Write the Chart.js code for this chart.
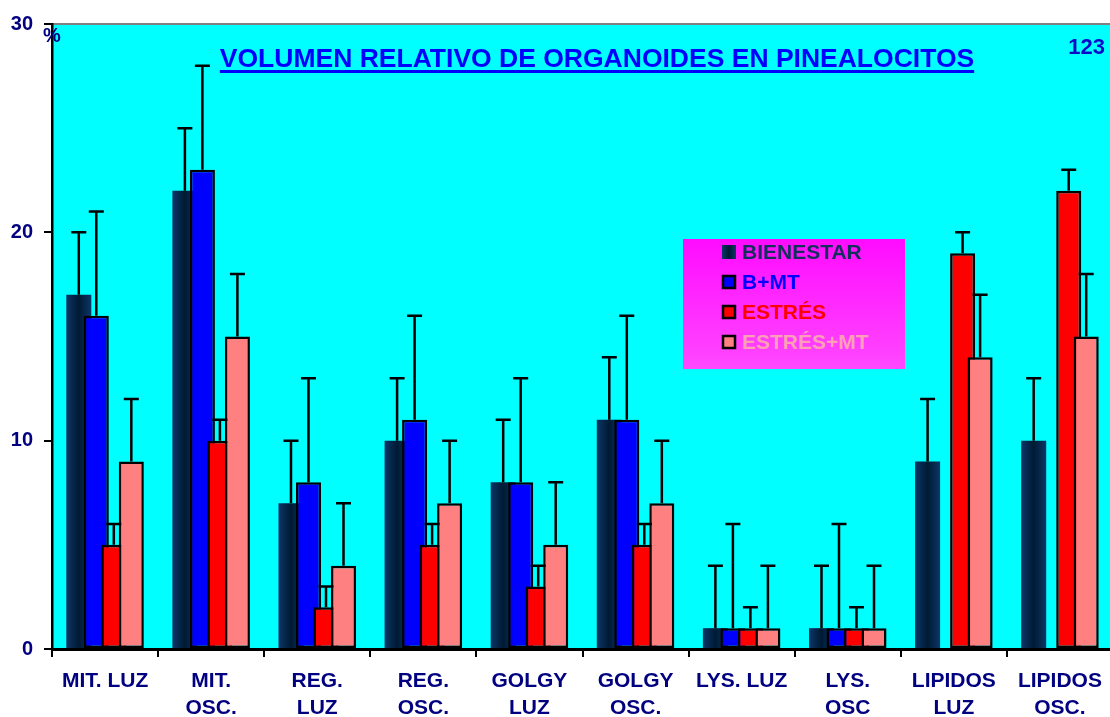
<!DOCTYPE html>
<html>
<head>
<meta charset="utf-8">
<title>Volumen relativo de organoides en pinealocitos</title>
<script src="https://cdn.jsdelivr.net/npm/chart.js@4.4.0/dist/chart.umd.min.js"></script>
<style>
  html, body { margin: 0; padding: 0; background: #fff; overflow: hidden; }
  #chart { display: block; }
</style>
</head>
<body>
<canvas id="chart" width="1116" height="717"></canvas>
<script>
// organelle / lighting groups
const categories = [
    'MIT. LUZ', ['MIT.', 'OSC.'], ['REG.', 'LUZ'], ['REG.', 'OSC.'], ['GOLGY', 'LUZ'],
    ['GOLGY', 'OSC.'], 'LYS. LUZ', ['LYS.', 'OSC'], ['LIPIDOS', 'LUZ'], ['LIPIDOS', 'OSC.']
];

// mean relative volume (%) per group
const bienestar   = [17, 22, 7, 10, 8, 11, 1, 1, 9, 10];
const bMt         = [16, 23, 8, 11, 8, 11, 1, 1, null, null];
const estres      = [5, 10, 2, 5, 3, 5, 1, 1, 19, 22];
const estresMt    = [9, 15, 4, 7, 5, 7, 1, 1, 14, 15];

// upper error (SD) per group
const bienestarSD = [3, 3, 3, 3, 3, 3, 3, 3, 3, 3];
const bMtSD       = [5, 5, 5, 5, 5, 5, 5, 5, null, null];
const estresSD    = [1, 1, 1, 1, 1, 1, 1, 1, 1, 1];
const estresMtSD  = [3, 3, 3, 3, 3, 3, 3, 3, 3, 3];

const yTicks = [0, 10, 20, 30];

const FONT = '"Liberation Sans", Arial, sans-serif';
const NAVY = '#000080';

function darkGradient(ctx, left, right) {
    const g = ctx.createLinearGradient(left, 0, right, 0);
    g.addColorStop(0, '#0c3668');
    g.addColorStop(0.5, '#001a33');
    g.addColorStop(1, '#0c3668');
    return g;
}

// cyan plot area with grey top edge
const plotBackground = {
    id: 'plotBackground',
    beforeDraw(chart) {
        const { ctx, chartArea: a } = chart;
        ctx.save();
        ctx.fillStyle = '#00ffff';
        ctx.fillRect(a.left, a.top, a.right - a.left, a.bottom - a.top);
        ctx.strokeStyle = '#808080';
        ctx.lineWidth = 2;
        ctx.beginPath();
        ctx.moveTo(a.left, a.top);
        ctx.lineTo(a.right, a.top);
        ctx.stroke();
        ctx.restore();
    }
};

function drawErrorBars(chart) {
    const { ctx } = chart;
    const yScale = chart.scales.y;
    ctx.save();
    ctx.strokeStyle = '#000';
    ctx.lineWidth = 2.5;
    chart.data.datasets.forEach((ds, i) => {
        const meta = chart.getDatasetMeta(i);
        ds.data.forEach((v, j) => {
            const sd = ds.errors[j];
            if (v == null || sd == null) return;
            const x = meta.data[j].x;
            const yTop = yScale.getPixelForValue(v);
            const yErr = yScale.getPixelForValue(v + sd);
            ctx.beginPath();
            ctx.moveTo(x, yTop);
            ctx.lineTo(x, yErr);
            ctx.moveTo(x - 7.5, yErr);
            ctx.lineTo(x + 7.5, yErr);
            ctx.stroke();
        });
    });
    ctx.restore();
}

// draw datasets left to right so later bars overlap earlier ones
const forwardBars = {
    id: 'forwardBars',
    beforeDatasetsDraw(chart) {
        const { ctx, chartArea: a } = chart;
        chart.getSortedVisibleDatasetMetas().forEach(meta => {
            if (meta.index === 0) {
                meta.data.forEach(bar => {
                    bar.options = Object.assign({}, bar.options, {
                        backgroundColor: darkGradient(ctx, bar.x - bar.width / 2, bar.x + bar.width / 2)
                    });
                });
            }
            ctx.save();
            ctx.beginPath();
            ctx.rect(a.left, a.top, a.right - a.left, a.bottom - a.top);
            ctx.clip();
            meta.controller.draw();
            ctx.restore();
        });
        drawErrorBars(chart);
        return false;
    }
};

const legendItems = [
    { label: 'BIENESTAR', text: '#12305c', fill: null, border: false },
    { label: 'B+MT', text: '#0000ff', fill: '#0000ff', border: true },
    { label: 'ESTRÉS', text: '#ff0000', fill: '#ff0000', border: true },
    { label: 'ESTRÉS+MT', text: '#ffa0b4', fill: '#ff8080', border: true }
];

const decorations = {
    id: 'decorations',
    afterDraw(chart) {
        const { ctx } = chart;
        ctx.save();

        // title
        ctx.font = 'bold 26.5px ' + FONT;
        ctx.fillStyle = '#0000ff';
        ctx.textAlign = 'left';
        ctx.textBaseline = 'alphabetic';
        const title = 'VOLUMEN RELATIVO DE ORGANOIDES EN PINEALOCITOS';
        const tw = ctx.measureText(title).width;
        const tx = 597 - tw / 2;
        ctx.fillText(title, tx, 67);
        ctx.fillRect(tx, 70, tw, 3);

        // page number
        ctx.font = 'bold 22px ' + FONT;
        ctx.fillStyle = '#0a0ac8';
        ctx.textAlign = 'right';
        ctx.fillText('123', 1105, 54);

        // unit next to top tick
        ctx.font = 'bold 20px ' + FONT;
        ctx.fillStyle = NAVY;
        ctx.textAlign = 'left';
        ctx.fillText('%', 43, 42);

        // legend box
        const bx = 683, by = 239, bw = 222, bh = 130;
        const bg = ctx.createLinearGradient(0, by, 0, by + bh);
        bg.addColorStop(0, '#ff0cff');
        bg.addColorStop(1, '#ff48ff');
        ctx.fillStyle = bg;
        ctx.fillRect(bx, by, bw, bh);

        ctx.font = 'bold 21px ' + FONT;
        ctx.textBaseline = 'middle';
        legendItems.forEach((item, i) => {
            const cy = 252 + i * 30;
            const mx = 722, my = cy - 7;
            if (item.border) {
                ctx.fillStyle = item.fill;
                ctx.fillRect(mx, my, 14, 14);
                ctx.strokeStyle = '#000';
                ctx.lineWidth = 2.5;
                ctx.strokeRect(mx + 1, my + 1, 12, 12);
            } else {
                ctx.fillStyle = darkGradient(ctx, mx, mx + 14);
                ctx.fillRect(mx, my, 14, 14);
            }
            ctx.fillStyle = item.text;
            ctx.fillText(item.label, 742, cy + 1);
        });

        ctx.restore();
    }
};

const barDefaults = {
    borderColor: '#000',
    borderWidth: 2.5,
    borderSkipped: false,
    categoryPercentage: 0.66,
    barPercentage: 1.43
};

new Chart(document.getElementById('chart'), {
    type: 'bar',
    data: {
        labels: categories,
        datasets: [
            Object.assign({}, barDefaults, { label: 'BIENESTAR', data: bienestar, errors: bienestarSD, backgroundColor: '#001a33', borderWidth: 0 }),
            Object.assign({}, barDefaults, { label: 'B+MT', data: bMt, errors: bMtSD, backgroundColor: '#0000ff' }),
            Object.assign({}, barDefaults, { label: 'ESTRÉS', data: estres, errors: estresSD, backgroundColor: '#ff0000' }),
            Object.assign({}, barDefaults, { label: 'ESTRÉS+MT', data: estresMt, errors: estresMtSD, backgroundColor: '#ff8080' })
        ]
    },
    options: {
        responsive: false,
        animation: false,
        layout: { padding: { top: 24, right: 3, left: 0, bottom: 0 } },
        plugins: {
            legend: { display: false },
            title: { display: false },
            tooltip: { enabled: false }
        },
        scales: {
            x: {
                afterFit: scale => { scale.height = 68; },
                grid: { offset: true, drawOnChartArea: false, drawTicks: true, tickLength: 8, color: '#000', lineWidth: 2 },
                border: { display: true, color: '#000', width: 3 },
                ticks: {
                    color: NAVY,
                    padding: 11,
                    maxRotation: 0,
                    autoSkip: false,
                    font: { family: FONT, size: 21, weight: 'bold', lineHeight: 1.27 }
                }
            },
            y: {
                min: 0,
                max: 30,
                afterFit: scale => { scale.width = 52; },
                afterBuildTicks: scale => { scale.ticks = yTicks.map(v => ({ value: v })); },
                grid: { drawOnChartArea: false, drawTicks: true, tickLength: 8, color: '#000', lineWidth: 2 },
                border: { display: true, color: '#000', width: 2.5 },
                ticks: {
                    color: NAVY,
                    padding: 11,
                    font: { family: FONT, size: 20, weight: 'bold' }
                }
            }
        }
    },
    plugins: [plotBackground, forwardBars, decorations]
});
</script>
</body>
</html>
